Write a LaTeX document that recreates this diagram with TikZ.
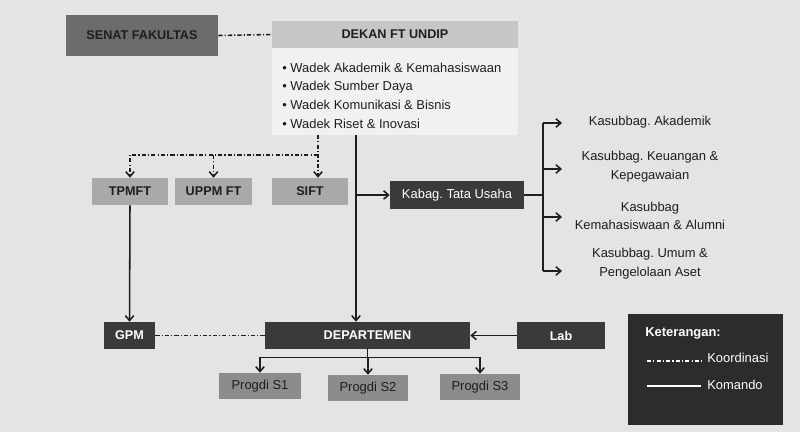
\documentclass[tikz,border=0pt]{standalone}
\usepackage{fontspec}
\setmainfont{Liberation Sans}
\usetikzlibrary{arrows.meta}

\definecolor{bgpaper}{HTML}{E4E4E4}
\definecolor{senatgray}{HTML}{6C6C6C}
\definecolor{dekangray}{HTML}{C6C6C6}
\definecolor{wadekpaper}{HTML}{F1F1F1}
\definecolor{unitgray}{HTML}{A9A9A9}
\definecolor{progdigray}{HTML}{8C8C8C}
\definecolor{darkbox}{HTML}{3A3A3A}
\definecolor{legendbox}{HTML}{2C2C2C}
\definecolor{inkgray}{HTML}{1E1E1E}

\begin{document}
\frenchspacing
\begin{tikzpicture}[x=0.025cm,y=-0.025cm,
    font=\fontsize{9.2}{13.3}\selectfont,
    box/.style={rectangle,inner sep=0pt,text=inkgray,minimum height=0.675cm},
    title/.style={box,font=\fontsize{9}{11}\selectfont\bfseries},
    darkbox/.style={box,fill=darkbox,text=white},
    komando/.style={draw=inkgray,line width=1.1pt},
    koord/.style={komando,dash pattern=on 3pt off 1.5pt on 0.8pt off 1.5pt},
    >={Straight Barb[length=3.5pt,width=6pt]}]
  \useasboundingbox (0,0) rectangle (800,432);
  \fill[bgpaper] (0,0) rectangle (800,432);

  % top level
  \node[title,fill=senatgray,minimum width=3.8cm,minimum height=1.025cm] (senat) at (142,35.5) {SENAT FAKULTAS};
  \node[title,fill=dekangray,minimum width=6.15cm] (dekan) at (395,34.5) {DEKAN FT UNDIP};
  \fill[wadekpaper] (dekan.south west) rectangle (518,135);
  \coordinate (wadekbot) at (395,135);
  \node[anchor=north west,align=left,text=inkgray,inner sep=0pt] (wadek) at (282,62.5)
    {• Wadek Akademik \& Kemahasiswaan\\
     • Wadek Sumber Daya\\
     • Wadek Komunikasi \& Bisnis\\
     • Wadek Riset \& Inovasi};

  % units under dekan
  \node[title,fill=unitgray,minimum width=1.9cm] (tpmft) at (130,191.5) {TPMFT};
  \node[title,fill=unitgray,minimum width=1.925cm] (uppm) at (213.5,191.5) {UPPM FT};
  \node[title,fill=unitgray,minimum width=1.9cm] (sift) at (310,191.5) {SIFT};
  \node[darkbox,minimum width=3.35cm,minimum height=0.7cm] (kabag) at (457,195) {Kabag. Tata Usaha};

  \node[align=center,text=inkgray] (ks1) at (650,122) {Kasubbag. Akademik};
  \node[align=center,text=inkgray] (ks2) at (650,167) {Kasubbag. Keuangan \&\\Kepegawaian};
  \node[align=center,text=inkgray] (ks3) at (650,216) {Kasubbag\\Kemahasiswaan \& Alumni};
  \node[align=center,text=inkgray] (ks4) at (650,264) {Kasubbag. Umum \&\\Pengelolaan Aset};

  % bottom level
  \node[title,darkbox,minimum width=1.275cm] (gpm) at (129.5,335.5) {GPM};
  \node[title,darkbox,minimum width=5.125cm] (dept) at (367.5,335.5) {DEPARTEMEN};
  \node[title,darkbox,minimum width=2.2cm] (lab) at (561,335.5) {Lab};
  \node[box,fill=progdigray,minimum width=2.025cm,minimum height=0.65cm] (ps1) at (260,386) {Progdi S1};
  \node[box,fill=progdigray,minimum width=2cm,minimum height=0.65cm] (ps2) at (368,388) {Progdi S2};
  \node[box,fill=progdigray,minimum width=2cm,minimum height=0.65cm] (ps3) at (480,387) {Progdi S3};

  % koordinasi
  \draw[koord] (senat.east) -- (dekan.west);
  \coordinate (kd) at (318,155);
  \draw[koord,->] (wadekbot -| kd) -- (kd |- sift.north);
  \draw[koord,->] (kd) -| (tpmft.north);
  \draw[koord,->] (uppm.north |- kd) -- (uppm.north);
  \draw[koord] (gpm.east) -- (dept.west);

  % komando
  \coordinate (md) at (356,195);
  \draw[komando,->] (wadekbot -| md) -- (md |- dept.north);
  \draw[komando,->] (md) -- (kabag.west);
  \coordinate (br) at (543,195);
  \draw[komando] (kabag.east) -- (br);
  \draw[komando] (543,123) -- (543,271);
  \foreach \y/\n in {123/1,169/2,217/3,271/4}{
    \coordinate (a\n) at (562,\y);
    \draw[komando,->] (br |- a\n) -- (a\n);
  }
  \draw[komando,->] (tpmft.south) -- (gpm.north);
  \draw[komando,->] (lab.west) -- (dept.east);
  \draw[komando] (dept.south) -- ++(0,8) coordinate (pj);
  \draw[komando] (pj -| ps1) -- (pj -| ps3);
  \foreach \p in {ps1,ps2,ps3}
    \draw[komando,->] (pj -| \p) -- (\p.north);

  % keterangan
  \fill[legendbox] (628,314) rectangle (783,425);
  \node[anchor=west,text=white,inner sep=0pt,font=\fontsize{9.2}{11}\selectfont\bfseries] (ket) at (645,333) {Keterangan:};
  \node[anchor=west,text=white,inner sep=0pt] (lk1) at (707,358) {Koordinasi};
  \node[anchor=west,text=white,inner sep=0pt] (lk2) at (707,385) {Komando};
  \draw[koord,draw=white] (647,361) -- ([xshift=-4]lk1.west |- 0,361);
  \draw[komando,draw=white] (647,386) -- ([xshift=-4]lk2.west |- 0,386);
\end{tikzpicture}
\end{document}
